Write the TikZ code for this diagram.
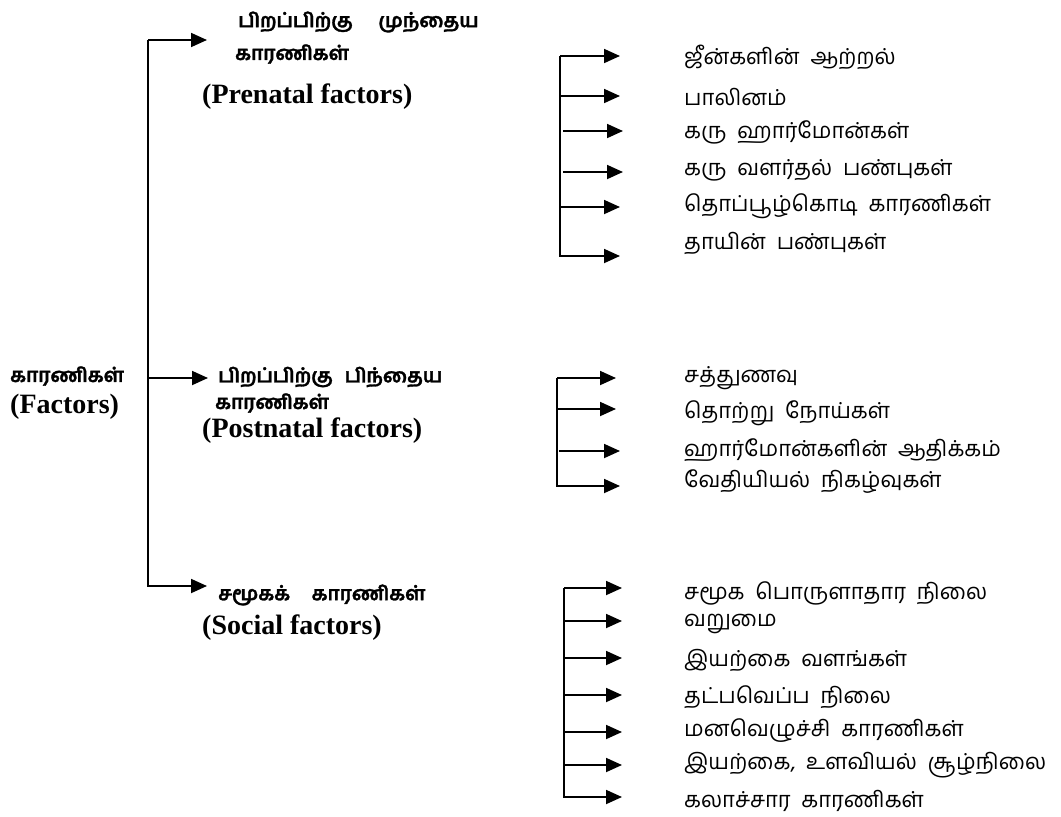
\documentclass[tikz,border=0pt]{standalone}
\usepackage{fontspec}
\usetikzlibrary{arrows.meta}
\newfontfamily\tamil[Script=Tamil]{Hind Madurai}
\newfontfamily\tamilh[Script=Tamil,BoldFeatures={FakeBold=1.5}]{Hind Madurai}
\newfontfamily\tnr{Liberation Serif}
\tikzset{
  conn/.style={line width=1.8pt, line join=miter},
  arr/.style={conn, -{Triangle[length=16pt,width=14pt]}},
  headta/.style={anchor=west, inner sep=0pt, font=\tamilh\bfseries\fontsize{19.5}{21}\selectfont},
  headen/.style={anchor=west, inner sep=0pt, font=\tnr\bfseries\fontsize{28}{30}\selectfont},
  item/.style={anchor=west, inner sep=0pt, font=\tamil\fontsize{22}{24}\selectfont},
}
\begin{document}
\begin{tikzpicture}[x=1pt,y=-1pt]
\useasboundingbox (0,0) rectangle (1061,817);
% left labels
\node[headta] (root) at (10,376) {காரணிகள்};
\node[headen] (rooten) at (10,407) {(Factors)};
\node[headta] (pre1) at (238,22) {பிறப்பிற்கு\hspace{1.3em}முந்தைய};
\node[headta] (pre2) at (235,54) {காரணிகள்};
\node[headen] (pre3) at (202,97) {(Prenatal factors)};
\node[headta] (post1) at (218,377) {பிறப்பிற்கு\hspace{0.6em}பிந்தைய};
\node[headta] (post2) at (215,403) {காரணிகள்};
\node[headen] (post3) at (202,431) {(Postnatal factors)};
\node[headta] (soc1) at (218,595) {சமூகக்\hspace{1.1em}காரணிகள்};
\node[headen] (soc2) at (202,628) {(Social factors)};
% main tree
\coordinate (mtop) at (148,40);
\coordinate (mmid) at (148,378);
\coordinate (pretip) at (207,40);
\coordinate (posttip) at (208,378);
\coordinate (soctip) at (207,586);
\draw[arr] (mtop) -- (pretip);
\draw[arr] (mtop) |- (soctip);
\draw[arr] (mmid) -- (posttip);
% prenatal list
\node[item] (a1) at (684,57) {ஜீன்களின்\ \ ஆற்றல்};
\node[item] (a2) at (684,97) {பாலினம்};
\node[item] (a3) at (684,132) {கரு\ \ ஹார்மோன்கள்};
\node[item] (a4) at (684,170) {கரு\ \ வளர்தல்\ \ பண்புகள்};
\node[item] (a5) at (684,206) {தொப்பூழ்கொடி\ \ காரணிகள்};
\node[item] (a6) at (684,243) {தாயின்\ \ பண்புகள்};
\coordinate (av) at (560,56);
\coordinate (at1) at (620,56);
\coordinate (as2) at (560,96);
\coordinate (at2) at (620,96);
\coordinate (as3) at (563,131);
\coordinate (at3) at (623,131);
\coordinate (as4) at (563,172);
\coordinate (at4) at (623,172);
\coordinate (as5) at (560,207);
\coordinate (at5) at (620,207);
\coordinate (at6) at (620,256);
\draw[arr] (av) |- (at6);
\draw[arr] (av) -- (at1);
\draw[arr] (as2) -- (at2);
\draw[arr] (as3) -- (at3);
\draw[arr] (as4) -- (at4);
\draw[arr] (as5) -- (at5);
% postnatal list
\node[item] (b1) at (684,378) {சத்துணவு};
\node[item] (b2) at (684,413) {தொற்று\ \ நோய்கள்};
\node[item] (b3) at (684,450) {ஹார்மோன்களின்\ \ ஆதிக்கம்};
\node[item] (b4) at (684,482) {வேதியியல்\ \ நிகழ்வுகள்};
\coordinate (bv) at (557,378);
\coordinate (bt1) at (616,378);
\coordinate (bs2) at (557,409);
\coordinate (bt2) at (616,409);
\coordinate (bs3) at (559,451);
\coordinate (bt3) at (620,451);
\coordinate (bt4) at (620,486);
\draw[arr] (bv) |- (bt4);
\draw[arr] (bv) -- (bt1);
\draw[arr] (bs2) -- (bt2);
\draw[arr] (bs3) -- (bt3);
% social list
\node[item] (c1) at (684,593) {சமூக\ \ பொருளாதார\ \ நிலை};
\node[item] (c2) at (684,624) {வறுமை};
\node[item] (c3) at (684,660) {இயற்கை\ \ வளங்கள்};
\node[item] (c4) at (684,697) {தட்பவெப்ப\ \ நிலை};
\node[item] (c5) at (684,731) {மனவெழுச்சி\ \ காரணிகள்};
\node[item] (c6) at (684,765) {இயற்கை,\ \ உளவியல்\ \ சூழ்நிலை};
\node[item] (c7) at (684,801) {கலாச்சார\ \ காரணிகள்};
\coordinate (cv) at (564,588);
\coordinate (ct1) at (622,588);
\coordinate (cs2) at (564,621);
\coordinate (ct2) at (622,621);
\coordinate (cs3) at (564,658);
\coordinate (ct3) at (622,658);
\coordinate (cs4) at (564,695);
\coordinate (ct4) at (622,695);
\coordinate (cs5) at (564,732);
\coordinate (ct5) at (622,732);
\coordinate (cs6) at (564,765);
\coordinate (ct6) at (622,765);
\coordinate (ct7) at (622,797);
\draw[arr] (cv) |- (ct7);
\draw[arr] (cv) -- (ct1);
\draw[arr] (cs2) -- (ct2);
\draw[arr] (cs3) -- (ct3);
\draw[arr] (cs4) -- (ct4);
\draw[arr] (cs5) -- (ct5);
\draw[arr] (cs6) -- (ct6);
\end{tikzpicture}
\end{document}
